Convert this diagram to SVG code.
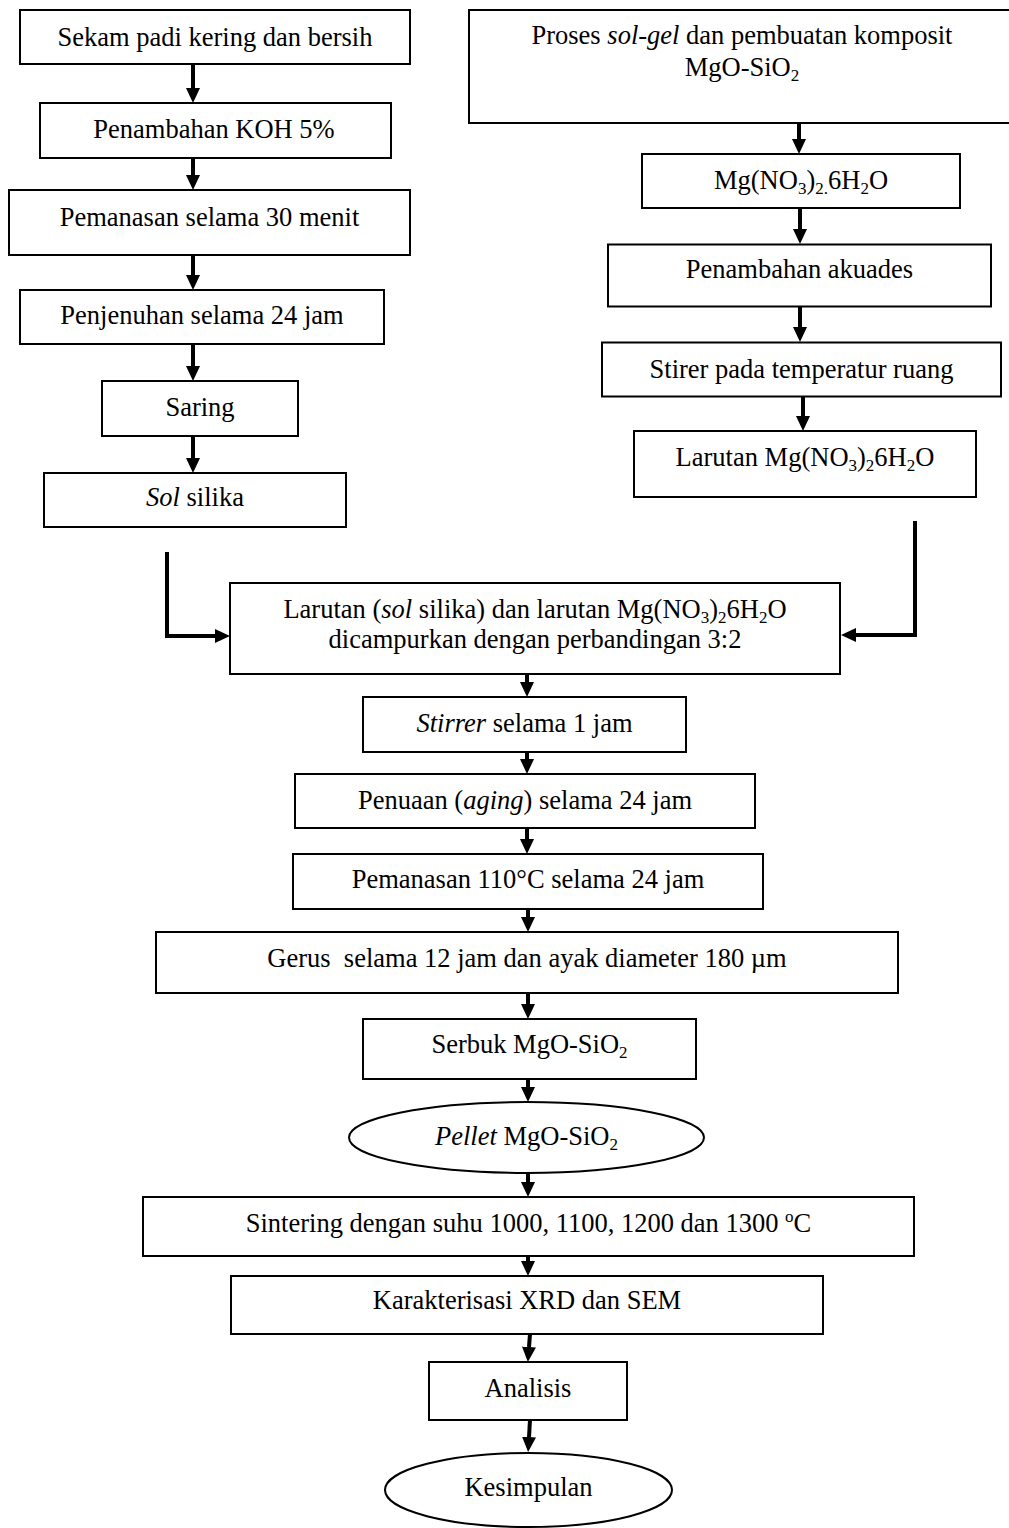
<svg xmlns="http://www.w3.org/2000/svg" width="1009" height="1528" viewBox="0 0 1009 1528">
<style>
.box{fill:#fff;stroke:#000;stroke-width:2}
.t{font-family:"Liberation Serif","Times New Roman",serif;font-size:26.5px;text-anchor:middle;fill:#000}
.i{font-style:italic}
.sub{font-size:17px}
.c{stroke:#000;stroke-width:4;fill:none;marker-end:url(#ah)}
</style>
<defs>
<marker id="ah" markerUnits="userSpaceOnUse" markerWidth="15" markerHeight="14" refX="0" refY="7" orient="auto" viewBox="0 0 15 14"><path d="M0,0 L15,7 L0,14 z" fill="#000"/></marker>
</defs>
<rect width="1009" height="1528" fill="#fff"/>

<g id="connectors">
<path class="c" d="M193,64 V88"/>
<path class="c" d="M193,158 V175"/>
<path class="c" d="M193,255 V275"/>
<path class="c" d="M193,344 V366"/>
<path class="c" d="M193,436 V458"/>
<path class="c" d="M799,123 V139"/>
<path class="c" d="M800,208 V229"/>
<path class="c" d="M800,306 V327"/>
<path class="c" d="M803,397 V416"/>
<path class="c" d="M167,552 V636 H215"/>
<path class="c" d="M915,521 V635 H856"/>
<path class="c" d="M527,674 V682"/>
<path class="c" d="M527,752 V759"/>
<path class="c" d="M527,828 V839"/>
<path class="c" d="M528,909 V917"/>
<path class="c" d="M528,993 V1004"/>
<path class="c" d="M528,1079 V1087"/>
<path class="c" d="M528,1173 V1182"/>
<path class="c" d="M528,1256 V1261"/>
<path class="c" d="M530,1334 L529,1347"/>
<path class="c" d="M530,1420 L529,1437"/>
</g>

<g id="n1"><rect class="box" x="20" y="10" width="390" height="54"/><text class="t" x="215" y="45.5">Sekam padi kering dan bersih</text></g>
<g id="n2"><rect class="box" x="40" y="103" width="351" height="55"/><text class="t" x="214" y="137.5">Penambahan KOH 5%</text></g>
<g id="n3"><rect class="box" x="9" y="190" width="401" height="65"/><text class="t" x="209.5" y="225.5">Pemanasan selama 30 menit</text></g>
<g id="n4"><rect class="box" x="20" y="290" width="364" height="54"/><text class="t" x="202" y="323.5">Penjenuhan selama 24 jam</text></g>
<g id="n5"><rect class="box" x="102" y="381" width="196" height="55"/><text class="t" x="200" y="416">Saring</text></g>
<g id="n6"><rect class="box" x="44" y="473" width="302" height="54"/><text class="t" x="195" y="506"><tspan class="i">Sol</tspan> silika</text></g>

<g id="r0"><rect class="box" x="469" y="10" width="550" height="113"/><text class="t" x="742" y="43.7">Proses <tspan class="i">sol-gel</tspan> dan pembuatan komposit</text><text class="t" x="742" y="76.4">MgO-SiO<tspan class="sub" dy="5">2</tspan></text></g>
<g id="r1"><rect class="box" x="642" y="154" width="318" height="54"/><text class="t" x="801" y="188.7">Mg(NO<tspan class="sub" dy="5">3</tspan><tspan dy="-5">)</tspan><tspan class="sub" dy="5">2.</tspan><tspan dy="-5">6H</tspan><tspan class="sub" dy="5">2</tspan><tspan dy="-5">O</tspan></text></g>
<g id="r2"><rect class="box" x="608" y="244.5" width="383" height="62"/><text class="t" x="799.5" y="278">Penambahan akuades</text></g>
<g id="r3"><rect class="box" x="602" y="342.5" width="399" height="54"/><text class="t" x="801.5" y="378">Stirer pada temperatur ruang</text></g>
<g id="r4"><rect class="box" x="634" y="431" width="342" height="66"/><text class="t" x="805" y="465.6">Larutan Mg(NO<tspan class="sub" dy="5">3</tspan><tspan dy="-5">)</tspan><tspan class="sub" dy="5">2</tspan><tspan dy="-5">6H</tspan><tspan class="sub" dy="5">2</tspan><tspan dy="-5">O</tspan></text></g>

<g id="m0"><rect class="box" x="230" y="583" width="610" height="91"/><text class="t" x="535" y="618">Larutan (<tspan class="i">sol</tspan> silika) dan larutan Mg(NO<tspan class="sub" dy="5">3</tspan><tspan dy="-5">)</tspan><tspan class="sub" dy="5">2</tspan><tspan dy="-5">6H</tspan><tspan class="sub" dy="5">2</tspan><tspan dy="-5">O</tspan></text><text class="t" x="535" y="648">dicampurkan dengan perbandingan 3:2</text></g>
<g id="m1"><rect class="box" x="363" y="697" width="323" height="55"/><text class="t" x="524.5" y="732"><tspan class="i">Stirrer</tspan> selama 1 jam</text></g>
<g id="m2"><rect class="box" x="295" y="774" width="460" height="54"/><text class="t" x="525" y="809">Penuaan (<tspan class="i">aging</tspan>) selama 24 jam</text></g>
<g id="m3"><rect class="box" x="293" y="854" width="470" height="55"/><text class="t" x="528" y="888">Pemanasan 110°C selama 24 jam</text></g>
<g id="m4"><rect class="box" x="156" y="932" width="742" height="61"/><text class="t" x="527" y="967" xml:space="preserve">Gerus  selama 12 jam dan ayak diameter 180 µm</text></g>
<g id="m5"><rect class="box" x="363" y="1019" width="333" height="60"/><text class="t" x="529.5" y="1053">Serbuk MgO-SiO<tspan class="sub" dy="5">2</tspan></text></g>
<g id="m6"><ellipse class="box" cx="526.5" cy="1137.5" rx="177.5" ry="35.5"/><text class="t" x="526.5" y="1145"><tspan class="i">Pellet</tspan> MgO-SiO<tspan class="sub" dy="5">2</tspan></text></g>
<g id="m7"><rect class="box" x="143" y="1197" width="771" height="59"/><text class="t" x="528.5" y="1232">Sintering dengan suhu 1000, 1100, 1200 dan 1300 <tspan class="sub" dy="-10">o</tspan><tspan dy="10">C</tspan></text></g>
<g id="m8"><rect class="box" x="231" y="1276" width="592" height="58"/><text class="t" x="527" y="1309">Karakterisasi XRD dan SEM</text></g>
<g id="m9"><rect class="box" x="429" y="1362" width="198" height="58"/><text class="t" x="528" y="1397">Analisis</text></g>
<g id="m10"><ellipse class="box" cx="528.5" cy="1490" rx="143.5" ry="37"/><text class="t" x="528.5" y="1496">Kesimpulan</text></g>
</svg>
